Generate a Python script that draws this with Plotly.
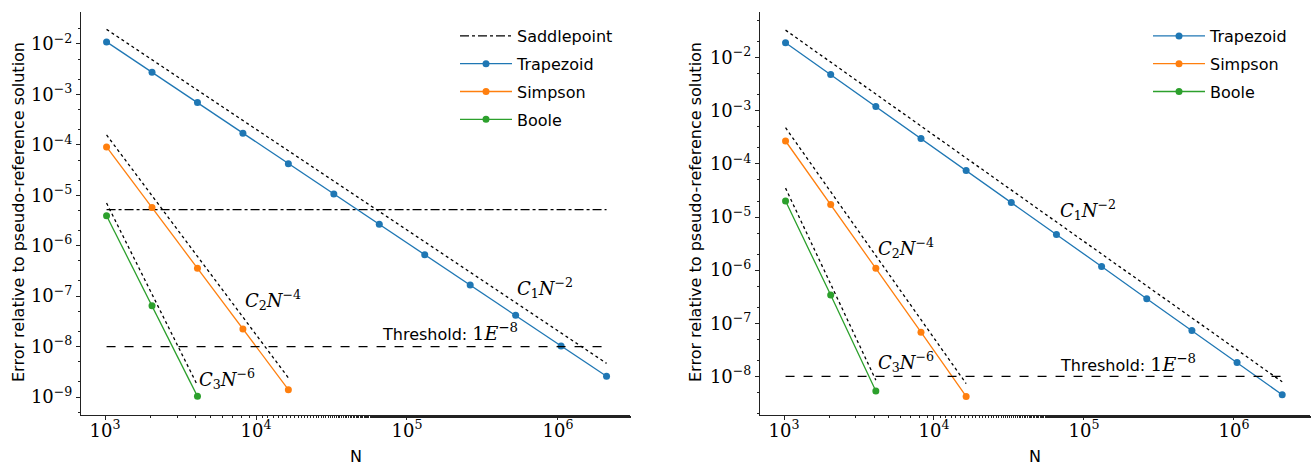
import plotly.graph_objects as go

# ---------------- data ----------------
N = [1024, 2048, 4096, 8192, 16384, 32768, 65536, 131072, 262144, 524288, 1048576, 2097152]

# left panel
L_trap = [1.1e-2, 2.75e-3, 6.9e-4, 1.7e-4, 4.24e-5, 1.06e-5, 2.66e-6, 6.6e-7, 1.66e-7, 4.17e-8, 1.03e-8, 2.57e-9]
L_simp = [9.1e-5, 5.7e-6, 3.56e-7, 2.23e-8, 1.4e-9]
L_boole = [3.94e-6, 6.45e-8, 1.03e-9]
L_saddle = [5.2e-6, 5.2e-6]
threshold = [1e-8, 1e-8]
span_N = [1024, 2097152]

L_ref1_N = [1024, 2097152]; L_ref1 = [1.95e-2, 4.65e-9]
L_ref2_N = [1024, 16384];   L_ref2 = [1.57e-4, 2.4e-9]
L_ref3_N = [1024, 4096];    L_ref3 = [7.0e-6, 1.7e-9]

# right panel
R_trap = [1.91e-2, 4.8e-3, 1.2e-3, 3.0e-4, 7.5e-5, 1.88e-5, 4.7e-6, 1.17e-6, 2.9e-7, 7.3e-8, 1.83e-8, 4.5e-9]
R_simp = [2.7e-4, 1.72e-5, 1.08e-6, 6.8e-8, 4.2e-9]
R_boole = [2.0e-5, 3.4e-7, 5.3e-9]

R_ref1_N = [1024, 2097152]; R_ref1 = [3.3e-2, 7.9e-9]
R_ref2_N = [1024, 16384];   R_ref2 = [4.8e-4, 7.3e-9]
R_ref3_N = [1024, 4096];    R_ref3 = [3.5e-5, 8.5e-9]

series_names = ["Trapezoid", "Simpson", "Boole"]
colors = ["#1f77b4", "#ff7f0e", "#2ca02c"]

ref_labels = ["<i>C</i><sub>1</sub><i>N</i><sup>−2</sup>",
              "<i>C</i><sub>2</sub><i>N</i><sup>−4</sup>",
              "<i>C</i><sub>3</sub><i>N</i><sup>−6</sup>"]
thr_label = "Threshold: <span style='font-family:DejaVu Serif;font-size:19px'>1<i>E</i><sup>−8</sup></span>"

x_tickvals = [1e3, 1e4, 1e5, 1e6]
x_ticktext = ["10<sup>3</sup>", "10<sup>4</sup>", "10<sup>5</sup>", "10<sup>6</sup>"]
y_tickvals = [1e-2, 1e-3, 1e-4, 1e-5, 1e-6, 1e-7, 1e-8, 1e-9]
y_ticktext = ["10<sup>−2</sup>", "10<sup>−3</sup>", "10<sup>−4</sup>", "10<sup>−5</sup>",
              "10<sup>−6</sup>", "10<sup>−7</sup>", "10<sup>−8</sup>", "10<sup>−9</sup>"]

# ---------------- figure ----------------
W, H = 1314, 467
ML, MR, MT, MB = 81, 4, 12, 52
PW, PH = W - ML - MR, H - MT - MB

def px(x):
    return (x - ML) / PW

def py(y):
    return 1 - (y - MT) / PH

fig = go.Figure()
SANS = "DejaVu Sans"
SERIF = "DejaVu Serif"

def add_panel(xa, ya, legend, trap, simp, boole, refs, saddle=None):
    if saddle is not None:
        fig.add_trace(go.Scatter(x=span_N, y=saddle, mode="lines", name="Saddlepoint",
                                 line=dict(color="black", width=1.3, dash="dashdot"),
                                 xaxis=xa, yaxis=ya, legend=legend, legendgroup=legend + "s"))
    for name, col, vals in zip(series_names, colors, [trap, simp, boole]):
        fig.add_trace(go.Scatter(x=N[:len(vals)], y=vals, mode="lines+markers", name=name,
                                 line=dict(color=col, width=1.3),
                                 marker=dict(color=col, size=7),
                                 xaxis=xa, yaxis=ya, legend=legend, legendgroup=legend + name))
    for rx, ry in refs:
        fig.add_trace(go.Scatter(x=rx, y=ry, mode="lines", showlegend=False,
                                 line=dict(color="black", width=1.3, dash="dot"),
                                 xaxis=xa, yaxis=ya))
    fig.add_trace(go.Scatter(x=span_N, y=threshold, mode="lines", showlegend=False,
                             line=dict(color="black", width=1.3, dash="dash"),
                             xaxis=xa, yaxis=ya))

add_panel("x", "y", "legend", L_trap, L_simp, L_boole,
          [(L_ref1_N, L_ref1), (L_ref2_N, L_ref2), (L_ref3_N, L_ref3)], saddle=L_saddle)
add_panel("x2", "y2", "legend2", R_trap, R_simp, R_boole,
          [(R_ref1_N, R_ref1), (R_ref2_N, R_ref2), (R_ref3_N, R_ref3)])

axis_common = dict(type="log", showgrid=False, zeroline=False, showline=True,
                   linecolor="#222", linewidth=1, ticks="outside", ticklen=4,
                   tickcolor="#222", tickwidth=1,
                   minor=dict(ticks="outside", ticklen=2, tickcolor="#222", tickwidth=0.8, showgrid=False),
                   tickfont=dict(family=SERIF, size=18, color="black"))

fig.update_layout(
    width=W, height=H, margin=dict(l=ML, r=MR, t=MT, b=MB),
    plot_bgcolor="white", paper_bgcolor="white",
    xaxis=dict(axis_common, domain=[0, px(630)], range=[2.841, 6.477],
               tickvals=x_tickvals, ticktext=x_ticktext, anchor="y", ticklabelstandoff=-5),
    yaxis=dict(axis_common, domain=[0, 1], range=[-9.357, -1.366],
               tickvals=y_tickvals, ticktext=y_ticktext, anchor="x"),
    xaxis2=dict(axis_common, domain=[px(760), 1], range=[2.84, 6.507],
                tickvals=x_tickvals, ticktext=x_ticktext, anchor="y2", ticklabelstandoff=-5),
    yaxis2=dict(axis_common, domain=[0, 1], range=[-8.727, -1.14],
                tickvals=y_tickvals[:7], ticktext=y_ticktext[:7], anchor="x2"),
    legend=dict(x=px(455), y=py(19), xanchor="left", yanchor="top",
                font=dict(family=SANS, size=16, color="black"), bgcolor="rgba(0,0,0,0)",
                tracegroupgap=4, itemwidth=52),
    legend2=dict(x=px(1148), y=py(19), xanchor="left", yanchor="top",
                 font=dict(family=SANS, size=16, color="black"), bgcolor="rgba(0,0,0,0)",
                 tracegroupgap=4, itemwidth=52),
    showlegend=True,
)

annots = []
# reference labels (data coordinates, log10 values)
left_pos = [(5.715, -6.838), (3.914, -7.076), (3.609, -8.643)]
right_pos = [(4.827, -4.864), (3.613, -5.579), (3.613, -7.723)]
for lab, (ax_, ay_) in zip(ref_labels, left_pos):
    annots.append(dict(x=ax_, y=ay_, xref="x", yref="y", text=lab, showarrow=False,
                       xanchor="left", yanchor="middle", font=dict(family=SERIF, size=18, color="black")))
for lab, (ax_, ay_) in zip(ref_labels, right_pos):
    annots.append(dict(x=ax_, y=ay_, xref="x2", yref="y2", text=lab, showarrow=False,
                       xanchor="left", yanchor="middle", font=dict(family=SERIF, size=18, color="black")))
annots.append(dict(x=4.821, y=-7.72, xref="x", yref="y", text=thr_label, showarrow=False,
                   xanchor="left", yanchor="middle", font=dict(family=SANS, size=16, color="black")))
annots.append(dict(x=4.827, y=-7.74, xref="x2", yref="y2", text=thr_label, showarrow=False,
                   xanchor="left", yanchor="middle", font=dict(family=SANS, size=16, color="black")))
# axis titles
for xp in [356, 1035]:
    annots.append(dict(x=px(xp), y=py(456), xref="paper", yref="paper", text="N", showarrow=False,
                       xanchor="center", yanchor="middle", font=dict(family=SANS, size=16, color="black")))
for xp in [18, 695]:
    annots.append(dict(x=px(xp), y=py(212), xref="paper", yref="paper",
                       text="Error relative to pseudo-reference solution", showarrow=False,
                       textangle=-90, xanchor="center", yanchor="middle",
                       font=dict(family=SANS, size=16, color="black")))
fig.update_layout(annotations=annots)

fig.write_html("out.html", config={"displayModeBar": False},
               post_script="document.body.style.margin='0';document.body.style.overflow='hidden';")
